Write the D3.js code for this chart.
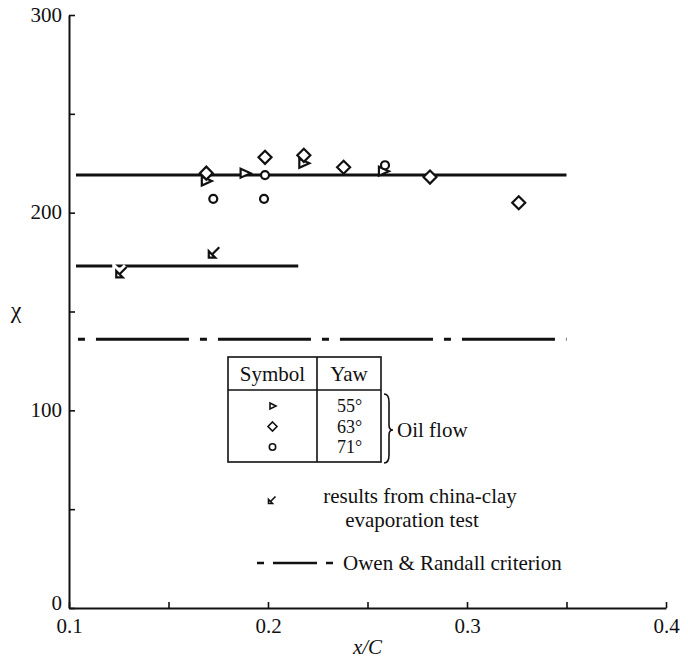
<!DOCTYPE html>
<html>
<head>
<meta charset="utf-8">
<script src="https://cdn.jsdelivr.net/npm/d3@7"></script>
<style>
  body { margin: 0; background: #fff; }
  text { font-family: "Liberation Serif", "Times New Roman", serif; fill: #111; }
</style>
</head>
<body>
<div id="graph"></div>
<script>
// oil-flow transition points against x/C, one list per yaw angle
var yaw55 = [[0.169, 216], [0.1885, 220], [0.218, 225], [0.258, 221]];
var yaw63 = [[0.169, 220], [0.1985, 228], [0.218, 229], [0.238, 223], [0.2814, 218], [0.326, 205]];
var yaw71 = [[0.1725, 207], [0.198, 207], [0.1985, 219], [0.2588, 224]];
var chinaClay = [[0.1265, 170], [0.173, 180]];

// mean levels: [chi, x start, x end]
var oilMean = [219, 0.1035, 0.35];
var clayMean = [173, 0.1035, 0.2152];
var owenRandall = [136, 0.1045, 0.35];

var xTicks = [0.1, 0.15, 0.2, 0.25, 0.3, 0.35, 0.4];
var xLabels = [0.1, 0.2, 0.3, 0.4];
var yTicks = [0, 50, 100, 150, 200, 250, 300];
var yLabels = [0, 100, 200, 300];
var yawRows = ['55°', '63°', '71°'];

var width = 688, height = 662;
var svg = d3.select('#graph').append('svg')
    .attr('width', width)
    .attr('height', height);

var x = d3.scaleLinear().domain([0.1, 0.4]).range([69, 666]);
var y = d3.scaleLinear().domain([0, 300]).range([608, 15]);

// axes, ticks point inwards
var yAxis = svg.append('g')
    .attr('transform', 'translate(' + x(0.1) + ',0)')
    .call(d3.axisLeft(y).tickValues(yTicks).tickSizeInner(-6).tickSizeOuter(0).tickPadding(7)
        .tickFormat(function (d) { return yLabels.indexOf(d) >= 0 ? d : ''; }));
var xAxis = svg.append('g')
    .attr('transform', 'translate(0,' + y(0) + ')')
    .call(d3.axisBottom(x).tickValues(xTicks).tickSizeInner(-6).tickSizeOuter(0).tickPadding(9)
        .tickFormat(function (d) { return xLabels.indexOf(d) >= 0 ? d3.format('.1f')(d) : ''; }));

[yAxis, xAxis].forEach(function (a) {
    a.select('.domain').attr('stroke', '#111').attr('stroke-width', 2);
    a.selectAll('.tick line').attr('stroke', '#111').attr('stroke-width', 1.6);
    a.selectAll('.tick text').attr('font-size', 21).attr('font-family', '"Liberation Serif", serif').attr('fill', '#111');
});
yAxis.selectAll('.tick text').attr('dy', '0.3em');
// zero on the y axis sits a touch higher so it clears the 0.1 below it
yAxis.selectAll('.tick text').filter(function (d) { return d === 0; }).attr('dy', '0.05em');
xAxis.selectAll('.tick text').attr('dy', '0.75em');

svg.append('text')
    .attr('x', 16).attr('y', y(150) + 6)
    .attr('text-anchor', 'middle')
    .attr('font-size', 24)
    .text('χ');

svg.append('text')
    .attr('x', (x(0.1) + x(0.4)) / 2).attr('y', 654)
    .attr('text-anchor', 'middle')
    .attr('font-size', 21)
    .attr('font-style', 'italic')
    .text('x/C');

// mean lines
function level(d) {
    return [[x(d[1]), y(d[0])], [x(d[2]), y(d[0])]];
}
var line = d3.line();
svg.append('path').attr('d', line(level(oilMean)))
    .attr('stroke', '#111').attr('stroke-width', 3).attr('fill', 'none');
svg.append('path').attr('d', line(level(clayMean)))
    .attr('stroke', '#111').attr('stroke-width', 3).attr('fill', 'none');
svg.append('path').attr('d', line(level(owenRandall)))
    .attr('stroke', '#111').attr('stroke-width', 3).attr('fill', 'none')
    .attr('stroke-dasharray', '7,11,93,11');

// marker shapes
var tri = 'M-4.5,-4.5L5.5,0L-4.5,4.5Z';
var diamond = 'M0,-6.5L6.5,0L0,6.5L-6.5,0Z';
var clayMark = 'M-5.5,5.5L-5.5,-1L1,5.5Z M-2.5,2.5L5,-5';

function drawMarks(data, shape, halo) {
    var g = svg.append('g');
    if (halo) {
        g.selectAll('path.halo').data(data).enter().append('path')
            .attr('class', 'halo')
            .attr('d', shape)
            .attr('transform', function (d) { return 'translate(' + x(d[0]) + ',' + y(d[1]) + ')'; })
            .attr('fill', 'none').attr('stroke', '#fff').attr('stroke-width', 8);
    }
    return g.selectAll('path.mark').data(data).enter().append('path')
        .attr('class', 'mark')
        .attr('d', shape)
        .attr('transform', function (d) { return 'translate(' + x(d[0]) + ',' + y(d[1]) + ')'; })
        .attr('fill', '#fff').attr('stroke', '#111').attr('stroke-width', 2.2)
        .attr('stroke-linejoin', 'miter');
}
drawMarks(yaw55, tri, false);
drawMarks(yaw63, diamond, false);
svg.append('g').selectAll('circle').data(yaw71).enter().append('circle')
    .attr('cx', function (d) { return x(d[0]); })
    .attr('cy', function (d) { return y(d[1]); })
    .attr('r', 4)
    .attr('fill', '#fff').attr('stroke', '#111').attr('stroke-width', 2.2);
drawMarks(chinaClay, clayMark, true).attr('fill', 'none');

// legend table
var tb = {x0: 228, x1: 381, xm: 317, y0: 357, y1: 462, ym: 390};
var leg = svg.append('g');
leg.append('rect')
    .attr('x', tb.x0).attr('y', tb.y0)
    .attr('width', tb.x1 - tb.x0).attr('height', tb.y1 - tb.y0)
    .attr('fill', 'none').attr('stroke', '#111').attr('stroke-width', 1.6);
leg.append('line').attr('x1', tb.xm).attr('x2', tb.xm).attr('y1', tb.y0).attr('y2', tb.y1)
    .attr('stroke', '#111').attr('stroke-width', 1.6);
leg.append('line').attr('x1', tb.x0).attr('x2', tb.x1).attr('y1', tb.ym).attr('y2', tb.ym)
    .attr('stroke', '#111').attr('stroke-width', 1.6);
leg.append('text').attr('x', (tb.x0 + tb.xm) / 2).attr('y', 381)
    .attr('text-anchor', 'middle').attr('font-size', 21).text('Symbol');
leg.append('text').attr('x', (tb.xm + tb.x1) / 2).attr('y', 381)
    .attr('text-anchor', 'middle').attr('font-size', 21).text('Yaw');

var rowY = [406, 426.5, 447];
var sx = (tb.x0 + tb.xm) / 2;
leg.append('path').attr('d', 'M-2.5,-3L3.5,0L-2.5,3Z').attr('transform', 'translate(' + sx + ',' + rowY[0] + ')')
    .attr('fill', 'none').attr('stroke', '#111').attr('stroke-width', 1.6);
leg.append('path').attr('d', 'M0,-4.5L4.5,0L0,4.5L-4.5,0Z').attr('transform', 'translate(' + sx + ',' + rowY[1] + ')')
    .attr('fill', 'none').attr('stroke', '#111').attr('stroke-width', 1.6);
leg.append('circle').attr('cx', sx).attr('cy', rowY[2]).attr('r', 3.2)
    .attr('fill', 'none').attr('stroke', '#111').attr('stroke-width', 1.6);
leg.selectAll('text.yaw').data(yawRows).enter().append('text')
    .attr('class', 'yaw')
    .attr('x', 337).attr('y', function (d, i) { return rowY[i] + 6; })
    .attr('font-size', 18)
    .text(function (d) { return d; });

// brace grouping the three oil-flow rows
var bx = 384, bt = 394, bb = 463, bm = 430;
leg.append('path')
    .attr('d', 'M' + bx + ',' + bt + ' Q' + (bx + 5) + ',' + bt + ' ' + (bx + 5) + ',' + (bt + 8) +
        ' L' + (bx + 5) + ',' + (bm - 5) + ' Q' + (bx + 5) + ',' + bm + ' ' + (bx + 9) + ',' + bm +
        ' Q' + (bx + 5) + ',' + bm + ' ' + (bx + 5) + ',' + (bm + 5) +
        ' L' + (bx + 5) + ',' + (bb - 8) + ' Q' + (bx + 5) + ',' + bb + ' ' + bx + ',' + bb)
    .attr('fill', 'none').attr('stroke', '#111').attr('stroke-width', 1.6);
leg.append('text').attr('x', 397).attr('y', 437).attr('font-size', 21).text('Oil flow');

// china-clay and criterion keys
leg.append('path').attr('d', 'M-3.5,3.5L-3.5,-0.5L0.5,3.5Z M-2,2L3.5,-3.5')
    .attr('transform', 'translate(272,500)')
    .attr('fill', 'none').attr('stroke', '#111').attr('stroke-width', 1.6);
leg.append('text').attr('x', 420).attr('y', 503).attr('text-anchor', 'middle')
    .attr('font-size', 21).text('results from china-clay');
leg.append('text').attr('x', 412).attr('y', 527).attr('text-anchor', 'middle')
    .attr('font-size', 21).text('evaporation test');
leg.append('path').attr('d', 'M257,563L338,563')
    .attr('stroke', '#111').attr('stroke-width', 2.5).attr('stroke-dasharray', '7,9,44,9,7');
leg.append('text').attr('x', 343).attr('y', 570)
    .attr('font-size', 21).text('Owen & Randall criterion');
</script>
</body>
</html>
